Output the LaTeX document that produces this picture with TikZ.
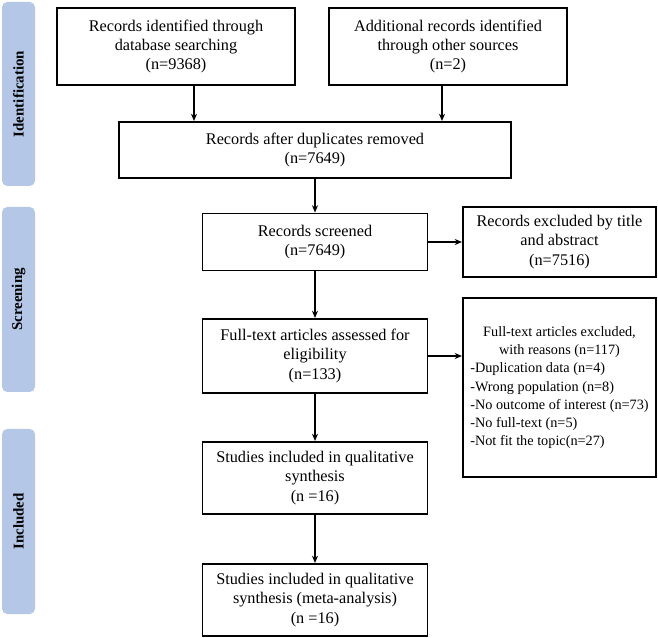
\documentclass[tikz,border=0pt]{standalone}
\usepackage{fontspec}
\setmainfont{Liberation Serif}
\usetikzlibrary{arrows.meta}
\definecolor{barblue}{HTML}{B4C7E7}
\begin{document}
\begin{tikzpicture}[x=0.75pt,y=-0.75pt,
  box/.style={draw,line width=1.4pt,rectangle,inner sep=0pt,align=center,
    font=\fontsize{12.2}{14.6}\selectfont},
  bar/.style={fill=barblue,rounded corners=4pt,draw=none,inner sep=0pt,rotate=90,
    minimum height=24.75pt,font=\bfseries\fontsize{11.2}{14}\selectfont},
  arr/.style={line width=1.7pt,-{Stealth[length=5.5pt,width=4.5pt]}}]
\useasboundingbox (0,0) rectangle (658,638);

% phase bars
\node[bar,minimum width=138pt] (pid) at (18.5,94) {Identification};
\node[bar,minimum width=138.75pt] (pscr) at (18.5,299.5) {Screening};
\node[bar,minimum width=138.75pt] (pinc) at (18.5,521.5) {Included};

% boxes
\node[box,minimum width=178.5pt,minimum height=57.75pt] (b1) at (176,46.5)
  {Records identified through\\database searching\\(n=9368)};
\node[box,minimum width=178.5pt,minimum height=57.75pt] (b2) at (448,46.5)
  {Additional records identified\\through other sources\\(n=2)};
\node[box,minimum width=294pt,minimum height=42pt] (b3) at (315,150)
  {Records after duplicates removed\\(n=7649)};
\node[box,minimum width=168.75pt,minimum height=42.75pt] (b4) at (315,242)
  {Records screened\\(n=7649)};
\node[box,minimum width=144.75pt,minimum height=52.5pt] (b5) at (559.5,242)
  {Records excluded by title\\and abstract\\(n=7516)};
\node[box,minimum width=168.75pt,minimum height=55.5pt] (b6) at (315,356)
  {Full-text articles assessed for\\eligibility\\(n=133)};
\node[box,minimum width=144.75pt,minimum height=134.25pt,
  font=\fontsize{10.7}{13.7}\selectfont] (b7) at (559.5,387.5)
  {\begin{tabular}{@{}l@{}}
   \multicolumn{1}{@{}c@{}}{Full-text articles excluded,}\\
   \multicolumn{1}{@{}c@{}}{with reasons (n=117)}\\
   -Duplication data (n=4)\\
   -Wrong population (n=8)\\
   -No outcome of interest (n=73)\\
   -No full-text (n=5)\\
   -Not fit the topic(n=27)
   \end{tabular}};
\node[box,minimum width=168.75pt,minimum height=54pt] (b8) at (315,478)
  {Studies included in qualitative\\synthesis\\(n =16)};
\node[box,minimum width=168.75pt,minimum height=54pt] (b9) at (315,600)
  {Studies included in qualitative\\synthesis (meta-analysis)\\(n =16)};

% connectors
\coordinate (c1) at (194,100);
\coordinate (c2) at (442,100);
\draw[arr] (b1.south -| c1) -- (b3.north -| c1);
\draw[arr] (b2.south -| c2) -- (b3.north -| c2);
\draw[arr] (b3.south) -- (b4.north);
\draw[arr] (b4.east) -- (b4.east -| b5.west);
\draw[arr] (b4.south) -- (b6.north);
\draw[arr] (b6.east) -- (b6.east -| b7.west);
\draw[arr] (b6.south) -- (b8.north);
\draw[arr] (b8.south) -- (b9.north);
\end{tikzpicture}
\end{document}
